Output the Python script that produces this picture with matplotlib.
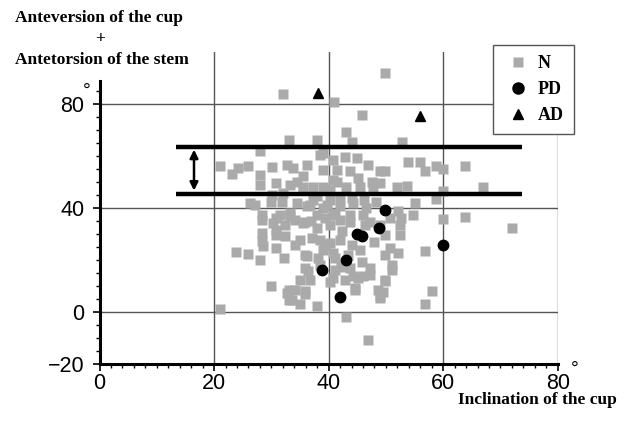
import matplotlib
matplotlib.use("Agg")
import matplotlib.pyplot as plt
from matplotlib.lines import Line2D
import numpy as np

# ---- data ----
n_x = [32.0, 41.0, 49.9, 45.9, 43.0, 44.1, 52.9, 53.9, 55.9, 56.8, 58.8, 60.0, 63.9, 67.0, 60.0, 58.8,
       46.9, 49.9, 52.0, 53.7, 55.1, 60.0, 63.9, 72.0, 56.8, 58.0, 56.8, 43.0, 46.9, 49.0, 49.8, 51.0,
       44.6, 52.4, 52.7, 52.1, 50.7, 47.2, 46.0, 44.3, 40.8, 21.0, 23.9, 26.0, 28.0, 29.9, 33.0, 33.0,
       35.0, 35.9, 37.9, 28.3, 28.3, 28.6, 30.9, 30.9, 30.3, 32.4, 32.4, 33.2, 35.6, 36.2, 36.4, 36.7,
       38.5, 39.1, 40.8, 37.9, 40.2, 39.1, 41.1, 26.3, 30.0, 36.2, 21.0, 23.1, 24.2, 26.0, 28.0, 28.0,
       30.1, 33.0, 32.7, 33.8, 37.9, 35.6, 39.1, 39.1, 40.8, 28.0, 30.9, 33.2, 35.6, 37.3, 39.1, 40.8,
       37.3, 40.2, 42.8, 44.9, 38.5, 36.2, 41.4, 43.7, 45.2, 47.5, 49.0, 34.4, 41.4, 43.1, 45.5, 35.6,
       40.2, 47.8, 49.0, 34.4, 36.7, 39.7, 42.0, 44.3, 46.6, 37.9, 40.8, 43.7, 46.0, 52.1, 54.8,
       34.1, 35.9, 39.4, 42.0, 43.7, 47.2, 48.9, 35.0, 37.1, 39.4, 42.0, 44.1, 35.9, 38.1, 41.1, 43.4,
       45.5, 35.9, 38.5, 41.1, 43.7, 45.8, 35.0, 40.2, 42.8, 45.1, 47.2, 34.1, 35.9, 44.6, 48.6, 33.6,
       49.0, 50.7, 52.4, 49.9, 49.8, 51.0, 49.8, 49.5, 27.1, 31.8, 28.3, 31.5, 33.2, 30.9, 28.3, 30.9,
       32.8, 38.0, 42.0, 44.0, 46.2, 48.2, 32.0, 30.2, 37.0, 42.3, 46.4, 48.0, 40.3, 34.2, 32.2, 42.2]
n_y = [84.0, 81.0, 92.2, 75.9, 69.2, 65.4, 65.6, 57.9, 57.9, 54.3, 56.3, 55.0, 56.3, 48.3, 46.4, 43.5,
       56.6, 54.1, 48.3, 48.6, 41.9, 35.9, 36.5, 32.3, 23.3, 7.9, 3.1, -1.9, -10.7, 6.3, 11.8, 16.3,
       9.2, 29.7, 36.2, 22.7, 24.6, 16.9, 13.7, 13.7, 13.1, 1.3, 23.1, 22.4, 20.1, 10.1, 8.6, 4.7,
       3.2, 7.9, 2.4, 35.5, 30.4, 25.2, 24.6, 31.7, 34.2, 29.1, 33.6, 36.8, 34.2, 21.4, 15.6, 12.4,
       27.8, 24.0, 22.7, 32.3, 33.6, 40.0, 38.1, 41.9, 42.2, 40.6, 56.3, 53.1, 55.4, 56.3, 61.8, 52.8,
       56.0, 66.3, 56.7, 55.4, 66.3, 52.2, 61.2, 54.7, 58.6, 49.0, 49.6, 49.0, 48.3, 48.3, 48.3, 50.9,
       43.2, 43.2, 59.8, 59.2, 60.5, 56.7, 54.7, 54.1, 51.5, 50.2, 54.1, 50.2, 50.2, 48.3, 48.3, 47.0,
       47.0, 47.7, 49.6, 41.9, 41.3, 41.3, 40.6, 41.9, 40.0, 37.4, 37.4, 37.4, 37.4, 38.7, 37.4,
       35.5, 34.7, 36.3, 35.5, 34.7, 34.7, 33.6, 27.8, 28.6, 25.9, 27.8, 25.9, 22.0, 20.9, 20.9, 22.0,
       24.0, 17.0, 18.2, 16.3, 17.0, 19.3, 12.4, 11.7, 12.4, 13.2, 14.3, 8.6, 6.7, 8.6, 8.6, 4.7,
       5.5, 36.2, 33.6, 29.7, 22.0, 18.2, 12.4, 7.8, 41.3, 42.3, 37.4, 37.4, 38.1, 36.2, 27.2, 29.7,
       7.3, 44.8, 44.2, 44.0, 43.2, 42.4, 45.8, 44.9, 35.0, 31.2, 33.4, 27.0, 26.5, 25.8, 20.8, 17.2]
pd_x = [49.9, 48.8, 44.9, 45.9, 60.0, 43.0, 38.9, 42.0]
pd_y = [39.2, 32.2, 30.0, 29.1, 25.6, 20.0, 16.2, 5.8]
ad_x = [38.1, 55.9]
ad_y = [84.5, 75.5]
band_low, band_high = 45.5, 63.7
band_x = [13.4, 73.7]
arrow_x = 16.5
x_ticks = [0, 20, 40, 60, 80]
y_ticks = [-20, 0, 40, 80]
legend_labels = ["N", "PD", "AD"]

W, H = 632, 428
fig = plt.figure(figsize=(W / 100, H / 100), dpi=100)
ax = fig.add_axes([99.5 / W, 1 - 363.8 / H, (557.7 - 99.5) / W, (363.8 - 52.3) / H])
ax.set_xlim(0, 80)
ax.set_ylim(-20, 100)

# grid
for gx in [20, 40, 60, 80]:
    ax.axvline(gx, color="#555555", lw=1.0, zorder=1)
for gy in [0, 40, 80]:
    ax.axhline(gy, color="#555555", lw=1.0, zorder=1)

gray = "#aaaaaa"
ax.plot(n_x, n_y, ls="none", marker="s", ms=7.3, mfc=gray, mec="none", zorder=2)
ax.plot(pd_x, pd_y, ls="none", marker="o", ms=7.5, mfc="black", mec="black", zorder=4)
ax.plot(ad_x, ad_y, ls="none", marker="^", ms=7, mfc="black", mec="black", zorder=4)

# band lines and arrow
ax.plot(band_x, [band_high, band_high], color="black", lw=3.2, solid_capstyle="butt", zorder=3)
ax.plot(band_x, [band_low, band_low], color="black", lw=3.2, solid_capstyle="butt", zorder=3)
ax.annotate("", xy=(arrow_x, band_low + 1.2), xytext=(arrow_x, band_high - 1.2),
            arrowprops=dict(arrowstyle="<|-|>", color="black", lw=1.8, mutation_scale=12,
                            shrinkA=0, shrinkB=0), zorder=5)

# spines
for s in ["top", "right"]:
    ax.spines[s].set_visible(False)
ax.spines["left"].set_linewidth(2.2)
ax.spines["bottom"].set_linewidth(2.2)
ax.spines["left"].set_bounds(-20, 89)

ax.set_xticks(x_ticks)
ax.set_xticks(np.arange(0, 81, 2), minor=True)
ax.set_yticks(y_ticks)
ax.set_yticks(np.arange(-20, 90, 5), minor=True)
tickfont = dict(family="Liberation Sans", size=15.5)
ax.set_xticklabels([str(v) for v in x_ticks], fontdict=tickfont)
ax.set_yticklabels([str(v).replace("-", "\u2212") for v in y_ticks], fontdict=tickfont)
ax.tick_params(which="major", direction="out", length=5, width=1.2, pad=1.5)
ax.tick_params(which="minor", direction="out", length=3, width=1.0)
ax.tick_params(axis="y", pad=6)

# degree signs
fig.text(87 / W, 1 - 91 / H, "\u00b0", family="Liberation Sans", size=14, ha="center", va="center")
fig.text(575 / W, 1 - 369 / H, "\u00b0", family="Liberation Sans", size=14, ha="center", va="center")

# legend
handles = [Line2D([], [], ls="none", marker="s", ms=7.2, mfc=gray, mec="none"),
           Line2D([], [], ls="none", marker="o", ms=8, mfc="black", mec="black"),
           Line2D([], [], ls="none", marker="^", ms=7, mfc="black", mec="black")]
leg = ax.legend(handles, legend_labels, loc="upper left",
                bbox_to_anchor=(492.7 / W, 1 - 45 / H), bbox_transform=fig.transFigure,
                borderaxespad=0, frameon=True, fancybox=False, framealpha=1,
                prop=dict(family="Liberation Serif", weight="bold", size=13),
                borderpad=0.55, handlelength=1.7, handletextpad=0.25, labelspacing=0.5)
leg.get_frame().set_edgecolor("#555555")
leg.get_frame().set_linewidth(1.0)
leg.set_zorder(10)

# axis titles
tfont = dict(family="Liberation Serif", weight="bold", size=12.5)
fig.text(15 / W, 1 - 22 / H, "Anteversion of the cup", ha="left", va="baseline", **tfont)
fig.text(100 / W, 1 - 39 / H, "+", ha="center", va="center", **tfont)
fig.text(15 / W, 1 - 64 / H, "Antetorsion of the stem", ha="left", va="baseline", **tfont)
fig.text(458 / W, 1 - 404 / H, "Inclination of the cup", ha="left", va="baseline", **tfont)

fig.savefig("out.png", dpi=100)
